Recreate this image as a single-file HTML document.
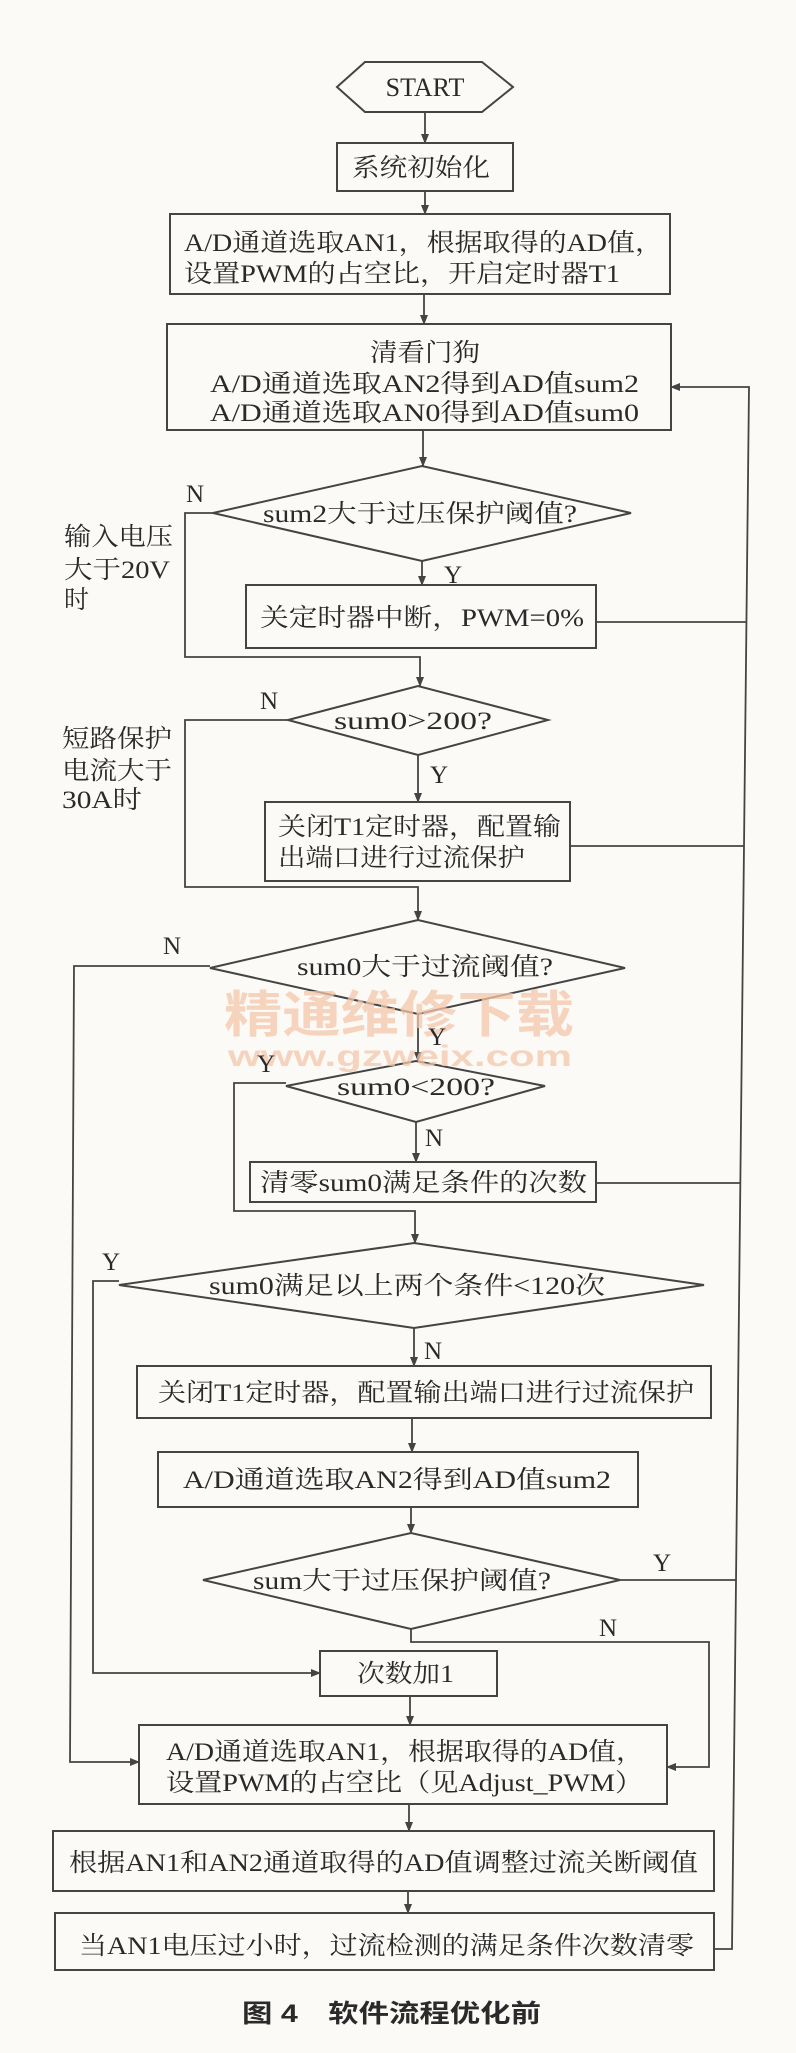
<!DOCTYPE html>
<html><head><meta charset="utf-8"><style>
html,body{margin:0;padding:0;background:#fbfaf7;}
svg{display:block;}
text{font-family:"Liberation Serif","Noto Serif CJK SC",serif;font-size:25px;fill:#2a2a2a;}
.c{text-anchor:middle;}
</style></head><body>
<svg width="796" height="2053" viewBox="0 0 796 2053" xmlns="http://www.w3.org/2000/svg">
<defs><marker id="a" markerWidth="10" markerHeight="10" refX="9" refY="5" orient="auto" markerUnits="userSpaceOnUse"><path d="M0,1 L10,5 L0,9 Z" fill="#444"/></marker></defs>
<g stroke="#444" stroke-width="2" fill="none">
<polygon points="337,87 365,62 482,62 513,87 482,112 365,112"/>
<rect x="337" y="143" width="176" height="48"/>
<rect x="170" y="214" width="500" height="80"/>
<rect x="167" y="324" width="504" height="106"/>
<polygon points="213,513 422,466 631,513 422,561"/>
<rect x="246" y="585" width="350" height="63"/>
<polygon points="288,720 418,686 548,720 418,755"/>
<rect x="265" y="802" width="305" height="79"/>
<polygon points="210,968 418,920 625,968 418,1014"/>
<polygon points="286,1086 416,1061 545,1086 416,1122"/>
<rect x="250" y="1162" width="346" height="40"/>
<polygon points="119,1285 414,1243 704,1285 414,1328"/>
<rect x="137" y="1366" width="574" height="52"/>
<rect x="158" y="1452" width="480" height="55"/>
<polygon points="203,1580 411,1533 620,1580 411,1629"/>
<rect x="320" y="1651" width="177" height="45"/>
<rect x="139" y="1725" width="528" height="79"/>
<rect x="53" y="1831" width="661" height="60"/>
<rect x="55" y="1913" width="659" height="57"/>
</g>
<g stroke="#444" stroke-width="1.8" fill="none" marker-end="url(#a)">
<line x1="425" y1="112" x2="425" y2="143"/>
<line x1="425" y1="191" x2="425" y2="214"/>
<line x1="424" y1="294" x2="424" y2="324"/>
<line x1="423" y1="430" x2="423" y2="466"/>
<line x1="422" y1="561" x2="422" y2="585"/>
<polyline points="213,513 185,513 185,657 420,657 420,686"/>
<line x1="418" y1="755" x2="418" y2="802"/>
<polyline points="288,720 185,720 185,887 418,887 418,920"/>
<line x1="418" y1="1014" x2="418" y2="1061"/>
<line x1="416" y1="1122" x2="416" y2="1162"/>
<polyline points="286,1083 234,1083 234,1211 415,1211 415,1243"/>
<line x1="414" y1="1328" x2="414" y2="1366"/>
<line x1="412" y1="1418" x2="412" y2="1452"/>
<line x1="411" y1="1507" x2="411" y2="1533"/>
<polyline points="119,1281 93,1281 93,1673 320,1673"/>
<polyline points="411,1629 411,1642 709,1642 709,1767 667,1767"/>
<line x1="410" y1="1696" x2="410" y2="1725"/>
<polyline points="210,966 74,966 70,1762 139,1762"/>
<line x1="409" y1="1804" x2="409" y2="1831"/>
<line x1="408" y1="1891" x2="408" y2="1913"/>
<polyline points="714,1949 732,1949 749,387 671,387"/>
</g>
<g stroke="#444" stroke-width="1.8" fill="none">
<line x1="596" y1="622" x2="746" y2="622"/>
<line x1="570" y1="846" x2="744" y2="846"/>
<line x1="596" y1="1183" x2="741" y2="1183"/>
<line x1="620" y1="1580" x2="736" y2="1580"/>
</g>
<g opacity="0.75">
<text x="224" y="1032" style="font-family:'Noto Sans CJK SC',sans-serif;font-size:50px;fill:#f5c6aa;font-weight:bold" textLength="350" lengthAdjust="spacingAndGlyphs">精通维修下载</text>
<text x="228" y="1066" style="font-family:'Liberation Sans',sans-serif;font-size:30px;fill:#f5c6aa;font-weight:bold" textLength="344" lengthAdjust="spacingAndGlyphs">www.gzweix.com</text>
</g>
<text x="425" y="96" class="c" style="font-size:26px">START</text>
<text x="352" y="176" textLength="138" lengthAdjust="spacingAndGlyphs">系统初始化</text>
<text x="184" y="251" textLength="479" lengthAdjust="spacingAndGlyphs">A/D通道选取AN1，根据取得的AD值，</text>
<text x="184" y="282" textLength="436" lengthAdjust="spacingAndGlyphs">设置PWM的占空比，开启定时器T1</text>
<text x="370" y="361" textLength="110" lengthAdjust="spacingAndGlyphs">清看门狗</text>
<text x="210" y="392" textLength="429" lengthAdjust="spacingAndGlyphs">A/D通道选取AN2得到AD值sum2</text>
<text x="210" y="421" textLength="429" lengthAdjust="spacingAndGlyphs">A/D通道选取AN0得到AD值sum0</text>
<text x="263" y="522" textLength="314" lengthAdjust="spacingAndGlyphs">sum2大于过压保护阈值?</text>
<text x="186" y="502">N</text>
<text x="444" y="583">Y</text>
<text x="64" y="545" textLength="109" lengthAdjust="spacingAndGlyphs">输入电压</text>
<text x="64" y="578" textLength="106" lengthAdjust="spacingAndGlyphs">大于20V</text>
<text x="64" y="608">时</text>
<text x="260" y="626" textLength="324" lengthAdjust="spacingAndGlyphs">关定时器中断，PWM=0%</text>
<text x="334" y="729" textLength="158" lengthAdjust="spacingAndGlyphs">sum0&gt;200?</text>
<text x="260" y="709">N</text>
<text x="430" y="783">Y</text>
<text x="62" y="747" textLength="110" lengthAdjust="spacingAndGlyphs">短路保护</text>
<text x="62" y="779" textLength="110" lengthAdjust="spacingAndGlyphs">电流大于</text>
<text x="62" y="808" textLength="80" lengthAdjust="spacingAndGlyphs">30A时</text>
<text x="278" y="835" textLength="283" lengthAdjust="spacingAndGlyphs">关闭T1定时器，配置输</text>
<text x="278" y="866" textLength="247" lengthAdjust="spacingAndGlyphs">出端口进行过流保护</text>
<text x="297" y="975" textLength="256" lengthAdjust="spacingAndGlyphs">sum0大于过流阈值?</text>
<text x="163" y="954">N</text>
<text x="428" y="1045">Y</text>
<text x="337" y="1095" textLength="158" lengthAdjust="spacingAndGlyphs">sum0&lt;200?</text>
<text x="257" y="1072">Y</text>
<text x="425" y="1146">N</text>
<text x="260" y="1191" textLength="327" lengthAdjust="spacingAndGlyphs">清零sum0满足条件的次数</text>
<text x="209" y="1294" textLength="396" lengthAdjust="spacingAndGlyphs">sum0满足以上两个条件&lt;120次</text>
<text x="102" y="1270">Y</text>
<text x="424" y="1359">N</text>
<text x="158" y="1401" textLength="536" lengthAdjust="spacingAndGlyphs">关闭T1定时器，配置输出端口进行过流保护</text>
<text x="183" y="1488" textLength="428" lengthAdjust="spacingAndGlyphs">A/D通道选取AN2得到AD值sum2</text>
<text x="253" y="1589" textLength="298" lengthAdjust="spacingAndGlyphs">sum大于过压保护阈值?</text>
<text x="653" y="1571">Y</text>
<text x="599" y="1636">N</text>
<text x="357" y="1682" textLength="97" lengthAdjust="spacingAndGlyphs">次数加1</text>
<text x="166" y="1760" textLength="478" lengthAdjust="spacingAndGlyphs">A/D通道选取AN1，根据取得的AD值，</text>
<text x="166" y="1791" textLength="477" lengthAdjust="spacingAndGlyphs">设置PWM的占空比（见Adjust_PWM）</text>
<text x="69" y="1871" textLength="629" lengthAdjust="spacingAndGlyphs">根据AN1和AN2通道取得的AD值调整过流关断阈值</text>
<text x="79" y="1954" textLength="615" lengthAdjust="spacingAndGlyphs">当AN1电压过小时，过流检测的满足条件次数清零</text>
<text x="242" y="2022" style="font-family:'Liberation Sans','Noto Sans CJK SC',sans-serif;font-weight:bold" textLength="299" lengthAdjust="spacingAndGlyphs">图 4　软件流程优化前</text>
</svg>
</body></html>
